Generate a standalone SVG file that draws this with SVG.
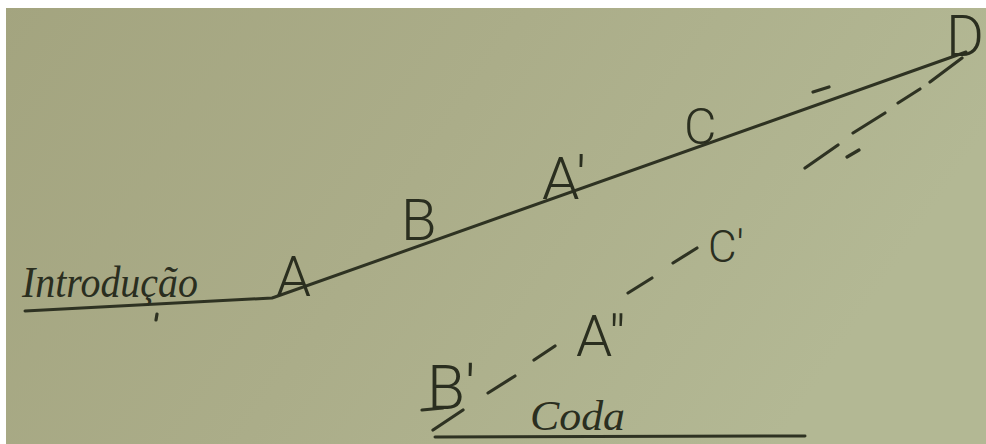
<svg xmlns="http://www.w3.org/2000/svg" width="986" height="444" viewBox="0 0 986 444">
<defs>
<linearGradient id="bg" x1="0" y1="0" x2="1" y2="0.3">
<stop offset="0" stop-color="#a3a47f"/>
<stop offset="0.5" stop-color="#abad89"/>
<stop offset="1" stop-color="#b3b894"/>
</linearGradient>
<style>
.ln{fill:none;stroke:#2e3222;stroke-width:3;stroke-linecap:round;stroke-linejoin:round}
.ds{fill:none;stroke:#2e3222;stroke-width:3.2;stroke-linecap:round}
.lb{font-family:Roboto,"Liberation Sans",sans-serif;font-weight:300;fill:#2a2e1f}
.hw{font-family:"Liberation Serif",serif;font-style:italic;fill:#2a2e1f}
</style>
</defs>
<rect width="986" height="444" fill="url(#bg)"/>
<rect width="986" height="8" fill="#ffffff"/>
<rect width="6" height="444" fill="#ffffff"/>
<g id="connectors">
<path class="ln" d="M25,311 L272,298 L275,297 L966,52"/>
<path class="ln" d="M435,437 L805,436"/>
<path class="ds" d="M433,430 L463,410 M488,393 L515,376 M534,360 L555,346 M628,293 L652,278 M673,263 L697,248 M805,168 L838,145 M853,133 L885,113 M898,103 L920,89 M930,82 L962,58"/>
<path class="ds" d="M813,92 L829,87 M847,157 L859,150 M157,314 L156,320 M422,410 L443,408"/>
</g>
<g id="intro"><text class="hw" x="22" y="297" font-size="44" textLength="176" lengthAdjust="spacingAndGlyphs">Introdução</text></g>
<g id="A"><text class="lb" x="276" y="296" font-size="56">A</text></g>
<g id="B"><text class="lb" x="401" y="240" font-size="58">B</text></g>
<g id="A1"><text class="lb" x="542" y="199" font-size="60">A'</text></g>
<g id="C"><text class="lb" x="684" y="144" font-size="50">C</text></g>
<g id="D"><text class="lb" x="946" y="56" font-size="58">D</text></g>
<g id="B1"><text class="lb" x="427" y="409" font-size="62">B'</text></g>
<g id="A2"><text class="lb" x="576" y="356" font-size="58">A″</text></g>
<g id="C1"><text class="lb" x="708" y="262" font-size="44">C'</text></g>
<g id="coda"><text class="hw" x="530" y="430" font-size="42" textLength="95" lengthAdjust="spacingAndGlyphs">Coda</text></g>
</svg>
